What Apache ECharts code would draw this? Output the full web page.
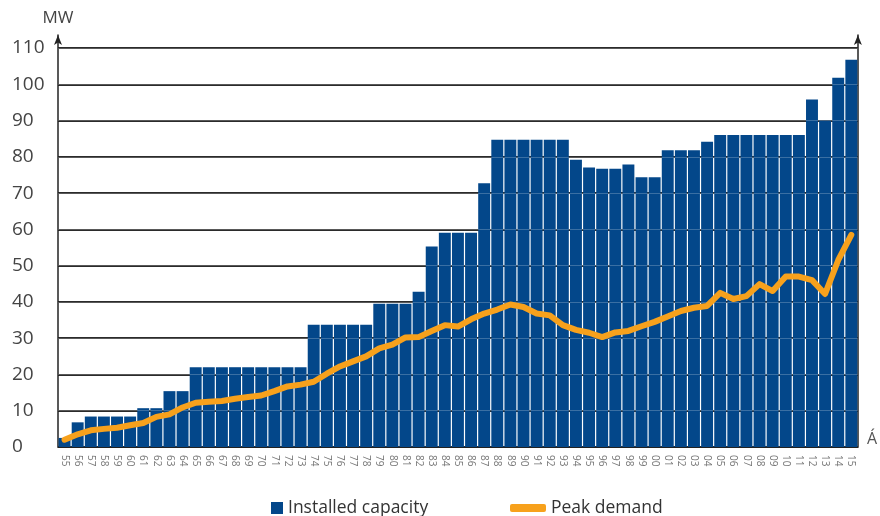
<!DOCTYPE html>
<html>
<head>
<meta charset="utf-8">
<script src="https://cdn.jsdelivr.net/npm/echarts@6/dist/echarts.min.js"></script>
<style>
  html, body { margin: 0; padding: 0; background: #fff; }
  #chart { width: 880px; height: 516px; }
</style>
</head>
<body>
<div id="chart"></div>
<script>
// Year labels, 1955 to 2015
const years = [
  '55','56','57','58','59','60','61','62','63','64',
  '65','66','67','68','69','70','71','72','73','74',
  '75','76','77','78','79','80','81','82','83','84',
  '85','86','87','88','89','90','91','92','93','94',
  '95','96','97','98','99','00','01','02','03','04',
  '05','06','07','08','09','10','11','12','13','14','15'
];

// Installed capacity, MW
const installedCapacity = [
  2.5, 6.8, 8.4, 8.4, 8.4, 8.4, 10.7, 10.7, 15.4, 15.4,
  22, 22, 22, 22, 22, 22, 22, 22, 22, 33.7,
  33.7, 33.7, 33.7, 33.7, 39.5, 39.5, 39.5, 42.8, 55.3, 59.1,
  59.1, 59.1, 72.7, 84.7, 84.7, 84.7, 84.7, 84.7, 84.7, 79.2,
  77.1, 76.7, 76.7, 77.9, 74.4, 74.4, 81.8, 81.8, 81.8, 84.2,
  86, 86, 86, 86, 86, 86, 86, 95.8, 90, 101.8, 106.8
];

// Peak demand, MW
const peakDemand = [
  2.0, 3.5, 4.6, 5.0, 5.3, 6.0, 6.6, 8.3, 9.0, 10.9,
  12.2, 12.5, 12.7, 13.3, 13.8, 14.2, 15.4, 16.7, 17.2, 18.0,
  20.2, 22.2, 23.6, 25.0, 27.2, 28.2, 30.2, 30.3, 32.0, 33.6,
  33.2, 35.2, 36.8, 37.9, 39.3, 38.6, 36.8, 36.3, 33.6, 32.3,
  31.5, 30.3, 31.6, 32.0, 33.3, 34.5, 36.0, 37.5, 38.4, 38.9,
  42.5, 40.8, 41.6, 44.9, 43.0, 47.0, 47.0, 46.0, 42.2, 51.5, 58.5
];

// Value-axis ticks and the light rules drawn across the bars
const yTicks = [0, 10, 20, 30, 40, 50, 60, 70, 80, 90, 100, 110];

const BAR = '#03478a';
const ORANGE = '#f7a11c';
const FONT = '"Open Sans", "DejaVu Sans", sans-serif';
const AXIS_TOP = 113.6;   // a little headroom so the axis arrows clear the 110 line

// dark rules at every tick, none at the extra top extent
const gridColors = yTicks.map(() => '#2b2b2b').concat(['rgba(0,0,0,0)']);

const chart = echarts.init(document.getElementById('chart'), null, { renderer: 'canvas' });

chart.setOption({
  animation: false,
  backgroundColor: '#ffffff',
  grid: { left: 58, right: 18, top: 35, bottom: 69, containLabel: false },
  legend: [
    {
      data: [{ name: 'Installed capacity', icon: 'rect' }],
      left: 266, top: 494,
      itemWidth: 12, itemHeight: 12, itemGap: 10,
      textStyle: { fontFamily: FONT, fontSize: 17.5, color: '#333' }
    },
    {
      data: [{ name: 'Peak demand', icon: 'roundRect' }],
      left: 505, top: 494,
      itemWidth: 36, itemHeight: 8, itemGap: 10,
      textStyle: { fontFamily: FONT, fontSize: 17.5, color: '#333' }
    }
  ],
  xAxis: {
    type: 'category',
    data: years,
    boundaryGap: true,
    name: 'Á',
    nameLocation: 'end',
    nameGap: 9,
    nameTextStyle: { fontFamily: FONT, fontSize: 16, color: '#555', verticalAlign: 'bottom' },
    axisLine: { show: true, lineStyle: { color: '#222', width: 1 } },
    axisTick: { show: false },
    axisLabel: {
      interval: 0, rotate: -90, fontFamily: FONT, fontSize: 10, color: '#777', margin: 8
    },
    splitLine: { show: false }
  },
  yAxis: [
    {
      type: 'value',
      min: 0, max: AXIS_TOP, interval: 10,
      name: 'MW',
      nameLocation: 'end',
      nameGap: 8,
      nameTextStyle: { fontFamily: FONT, fontSize: 17, color: '#444', align: 'center' },
      axisLine: {
        show: true, symbol: ['none', 'arrow'], symbolSize: [6, 10],
        lineStyle: { color: '#222', width: 1.5 }
      },
      axisTick: { show: false },
      axisLabel: {
        showMaxLabel: false, align: 'left', margin: 46,
        fontFamily: FONT, fontSize: 19, color: '#444'
      },
      splitLine: { show: true, lineStyle: { color: gridColors, width: 2 } }
    },
    {
      type: 'value',
      position: 'right',
      min: 0, max: AXIS_TOP, interval: 10,
      axisLine: {
        show: true, symbol: ['none', 'arrow'], symbolSize: [6, 10],
        lineStyle: { color: '#222', width: 1.5 }
      },
      axisTick: { show: false },
      axisLabel: { show: false },
      splitLine: { show: false }
    }
  ],
  series: [
    {
      name: 'Installed capacity',
      type: 'bar',
      data: installedCapacity,
      barCategoryGap: '9%',
      itemStyle: { color: BAR },
      markLine: {
        silent: true,
        symbol: 'none',
        label: { show: false },
        lineStyle: { color: 'rgba(255,255,255,0.22)', width: 1, type: 'solid' },
        data: yTicks.slice(1).map(v => ({ yAxis: v }))
      }
    },
    {
      name: 'Peak demand',
      type: 'line',
      data: peakDemand,
      symbol: 'none',
      smooth: false,
      itemStyle: { color: ORANGE },
      lineStyle: { color: ORANGE, width: 6, cap: 'round', join: 'round' },
      z: 5
    }
  ]
});
</script>
</body>
</html>
